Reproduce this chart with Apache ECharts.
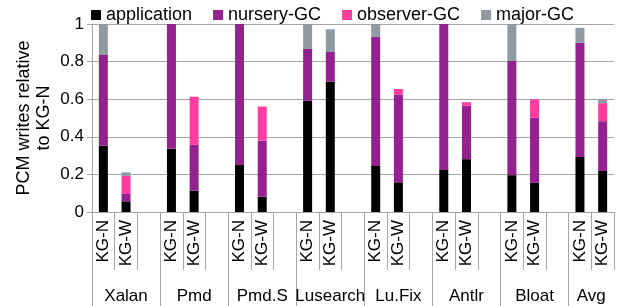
<!DOCTYPE html>
<html>
<head>
<meta charset="utf-8">
<script src="https://cdn.jsdelivr.net/npm/echarts@6/dist/echarts.min.js"></script>
<style>
  html, body { margin: 0; padding: 0; background: #fff; }
  #chart { width: 619px; height: 306px; }
</style>
</head>
<body>
<div id="chart"></div>
<script>
(function () {
    'use strict';

    var FONT = '"Liberation Sans", Arial, sans-serif';
    var GRID_GRAY = '#a6a6a6';

    // Benchmarks, and the two configurations drawn for each of them.
    var groups = ['Xalan', 'Pmd', 'Pmd.S', 'Lusearch', 'Lu.Fix', 'Antlr', 'Bloat', 'Avg'];
    var configs = ['KG-N', 'KG-W'];

    // Segment heights, in pairs (KG-N, KG-W) per benchmark.
    var application = [0.352, 0.057, 0.336, 0.114, 0.250, 0.082, 0.591, 0.693,
                       0.245, 0.158, 0.224, 0.281, 0.196, 0.155, 0.293, 0.218];
    var nurseryGC   = [0.483, 0.039, 0.664, 0.243, 0.750, 0.298, 0.276, 0.158,
                       0.687, 0.467, 0.776, 0.284, 0.607, 0.346, 0.607, 0.265];
    var observerGC  = [0, 0.096, 0, 0.256, 0, 0.181, 0, 0,
                       0, 0.029, 0, 0.019, 0, 0.098, 0, 0.096];
    var majorGC     = [0.165, 0.019, 0, 0, 0, 0, 0.133, 0.121,
                       0.068, 0, 0, 0, 0.197, 0, 0.080, 0.021];

    var seriesDefs = [
        { name: 'application', values: application, color: '#000000' },
        { name: 'nursery-GC', values: nurseryGC, color: '#93228f' },
        { name: 'observer-GC', values: observerGC, color: '#ff3d9f' },
        { name: 'major-GC', values: majorGC, color: '#8f9aa1' }
    ];

    // Each benchmark gets its two bars plus an empty spacer slot (none after the last).
    var cats = [];
    groups.forEach(function (g, gi) {
        configs.forEach(function (c) { cats.push(c); });
        if (gi < groups.length - 1) cats.push('');
    });

    // Group axis works in half-slot steps (no band gap), so names can sit
    // in the middle of each group and boundary ticks land between slots.
    var halfSteps = [];
    for (var h = 0; h <= cats.length * 2; h++) halfSteps.push('');
    groups.forEach(function (g, gi) {
        var start = gi * 3;
        var span = gi < groups.length - 1 ? 3 : 2;
        halfSteps[start * 2 + span] = g;
    });

    function spread(values) {
        var out = [];
        var k = 0;
        cats.forEach(function (c) {
            if (c === '') {
                out.push('-');
            } else {
                var v = values[k++];
                out.push(v ? v : '-');
            }
        });
        return out;
    }

    var chart = echarts.init(document.getElementById('chart'));

    chart.setOption({
        animation: false,
        textStyle: { fontFamily: FONT, color: '#000' },
        legend: {
            top: 1,
            left: 86,
            itemWidth: 10,
            itemHeight: 10,
            itemGap: 21,
            icon: 'rect',
            textStyle: { fontFamily: FONT, fontSize: 18, color: '#000' },
            data: seriesDefs.map(function (s) { return s.name; })
        },
        grid: { left: 92, right: 5, top: 24, bottom: 94, containLabel: false },
        xAxis: [{
            type: 'category',
            data: cats,
            axisLine: { show: true, lineStyle: { color: GRID_GRAY } },
            axisTick: { show: true, length: 58, interval: 0, lineStyle: { color: GRID_GRAY } },
            axisLabel: {
                interval: 0,
                rotate: 90,
                margin: 8,
                fontSize: 17,
                fontFamily: FONT,
                color: '#000'
            }
        }, {
            type: 'category',
            data: halfSteps,
            boundaryGap: false,
            position: 'bottom',
            axisLine: { show: false },
            axisTick: {
                show: true,
                length: 94,
                interval: function (i) { return i % 6 === 0 && i < halfSteps.length - 1; },
                lineStyle: { color: GRID_GRAY }
            },
            axisLabel: {
                interval: 0,
                hideOverlap: false,
                margin: 76,
                fontSize: 17,
                fontFamily: FONT,
                color: '#000'
            }
        }],
        yAxis: {
            type: 'value',
            min: 0,
            max: 1,
            interval: 0.2,
            name: 'PCM writes relative\nto KG-N',
            nameLocation: 'middle',
            nameGap: 38,
            nameMoveOverlap: false,
            nameTextStyle: { fontSize: 18, fontFamily: FONT, color: '#000', lineHeight: 20 },
            axisLine: { show: true, lineStyle: { color: GRID_GRAY } },
            axisTick: { show: true, length: 5, lineStyle: { color: GRID_GRAY } },
            axisLabel: { fontSize: 17, fontFamily: FONT, color: '#000', margin: 8 },
            splitLine: { show: true, lineStyle: { color: GRID_GRAY } }
        },
        series: seriesDefs.map(function (s) {
            return {
                name: s.name,
                type: 'bar',
                stack: 'total',
                xAxisIndex: 0,
                barWidth: 9,
                itemStyle: { color: s.color },
                data: spread(s.values)
            };
        })
    });
})();
</script>
</body>
</html>
